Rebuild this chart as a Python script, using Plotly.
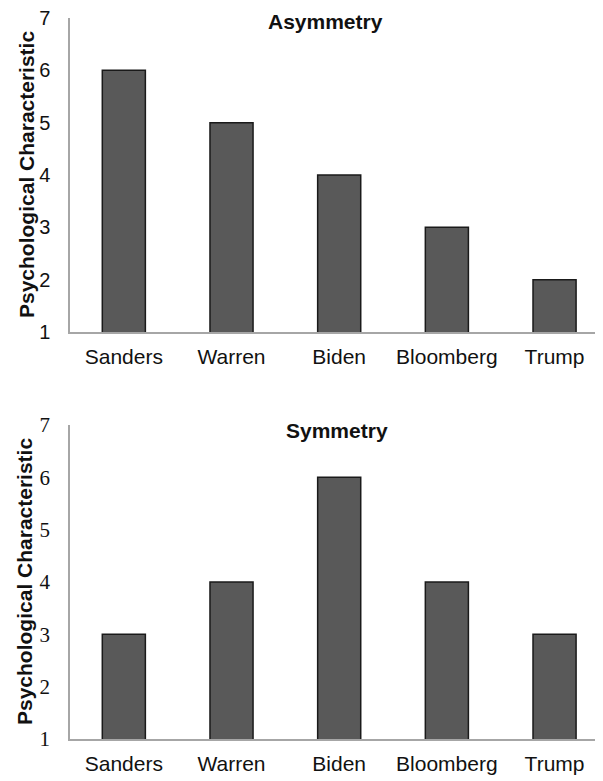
import plotly.graph_objects as go
from plotly.subplots import make_subplots

candidates = ["Sanders", "Warren", "Biden", "Bloomberg", "Trump"]
asymmetry_values = [6, 5, 4, 3, 2]
symmetry_values = [3, 4, 6, 4, 3]
y_ticks = [1, 2, 3, 4, 5, 6, 7]
panel_titles = ["Asymmetry", "Symmetry"]
y_title = "Psychological Characteristic"

# page body has an 8px default margin; work in window pixels and shift
OFF = 8
W, H = 603 - OFF, 781 - OFF
ML, MR, MT, MB = 70 - OFF, 0, 18 - OFF, 781 - 739
plot_h = H - MT - MB
plot_w = W - ML - MR

def py(px):
    return (739 - px) / plot_h

def pxx(px):
    return (px - 70) / plot_w

fig = make_subplots(rows=2, cols=1, vertical_spacing=0.0)

bar_style = dict(marker=dict(color="#595959", line=dict(color="#1a1a1a", width=1.5)),
                 width=0.4, showlegend=False, hoverinfo="x+y")
fig.add_trace(go.Bar(x=candidates, y=asymmetry_values, **bar_style), row=1, col=1)
fig.add_trace(go.Bar(x=candidates, y=symmetry_values, **bar_style), row=2, col=1)

sans = "Liberation Sans, Arial, sans-serif"
serif = "Liberation Serif, Times New Roman, serif"

fig.update_layout(
    width=W, height=H,
    margin=dict(l=ML, r=MR, t=MT, b=MB, autoexpand=False),
    paper_bgcolor="white", plot_bgcolor="white",
    bargap=0.6,
)

xcommon = dict(range=[-0.5, 4.45], showline=True, linecolor="#a6a6a6", linewidth=2,
               ticks="", showgrid=False, zeroline=False, ticklabelstandoff=5,
               automargin=False, ticklabeloverflow="allow",
               tickfont=dict(family=sans, size=21, color="#111111"))
fig.update_xaxes(**xcommon)

ycommon = dict(range=[1, 7], tickvals=y_ticks, showline=True, linecolor="#a6a6a6",
               linewidth=1.5, ticks="", showgrid=False, zeroline=False,
               ticklabelstandoff=14, automargin=False, ticklabeloverflow="allow")
fig.update_yaxes(**ycommon, tickfont=dict(family=sans, size=20, color="#111111"), row=1, col=1)
fig.update_yaxes(**ycommon, tickfont=dict(family=serif, size=21, color="#111111"), row=2, col=1)

fig.update_layout(
    xaxis=dict(domain=[0, 1], anchor="y"),
    yaxis=dict(domain=[py(332), 1.0], anchor="x"),
    xaxis2=dict(domain=[0, 1], anchor="y2"),
    yaxis2=dict(domain=[0.0, py(425)], anchor="x2"),
)

annotations = [
    dict(text="<b>%s</b>" % panel_titles[0], x=pxx(325), y=py(22), xref="paper", yref="paper",
         xanchor="center", yanchor="middle", showarrow=False,
         font=dict(family=sans, size=21, color="#111111")),
    dict(text="<b>%s</b>" % panel_titles[1], x=pxx(337), y=py(430), xref="paper", yref="paper",
         xanchor="center", yanchor="middle", showarrow=False,
         font=dict(family=sans, size=21, color="#111111")),
    dict(text="<b>%s</b>" % y_title, x=pxx(26), y=py(175), xref="paper", yref="paper",
         xanchor="center", yanchor="middle", showarrow=False, textangle=-90,
         font=dict(family=sans, size=21, color="#111111")),
    dict(text="<b>%s</b>" % y_title, x=pxx(24), y=py(582), xref="paper", yref="paper",
         xanchor="center", yanchor="middle", showarrow=False, textangle=-90,
         font=dict(family=sans, size=21, color="#111111")),
]
fig.update_layout(annotations=annotations)

fig.write_html("out.html")
